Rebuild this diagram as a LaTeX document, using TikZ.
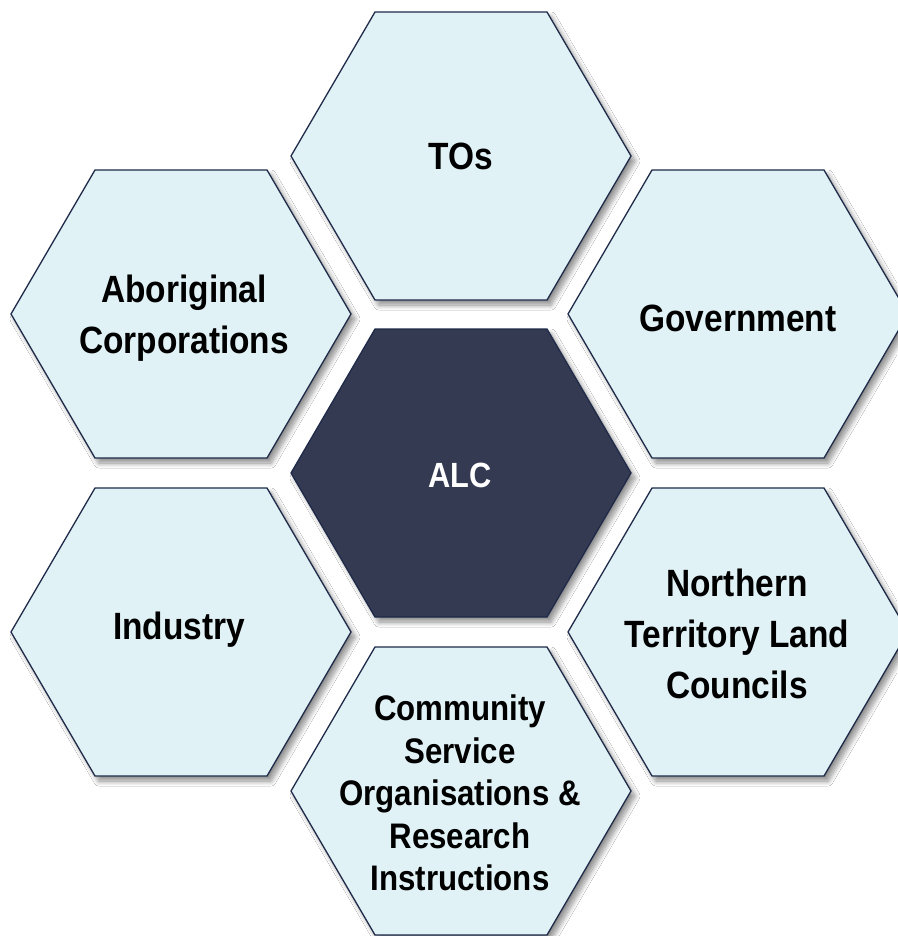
\documentclass[tikz,border=0pt]{standalone}
\usepackage{fontspec}
\newfontfamily\hexfont[FakeStretch=0.88]{Liberation Sans}
\usetikzlibrary{shadows.blur}
\definecolor{hexfill}{HTML}{E1F2F6}
\definecolor{hexdark}{HTML}{343A52}
\definecolor{hexline}{HTML}{1E2A48}
\tikzset{
  hexshape/.style={draw=hexline, line width=1.3pt, line join=miter,
    blur shadow={shadow xshift=4pt, shadow yshift=-5pt, shadow blur radius=5pt,
      shadow blur steps=10, shadow opacity=45}},
  hexlight/.style={hexshape, fill=hexfill},
  hexdarkfill/.style={hexshape, fill=hexdark},
  hexpath/.style={insert path={(-170,0) -- (-86,-144) -- (86,-144) -- (170,0) -- (86,144) -- (-86,144) -- cycle}},
  hexlabel/.style={align=center, inner sep=0pt, text=black,
    font=\hexfont\bfseries\fontsize{38}{51}\selectfont},
  hexlabelsmall/.style={hexlabel, font=\hexfont\bfseries\fontsize{35.5}{42.5}\selectfont},
  hexlabelwhite/.style={hexlabel, text=white, font=\hexfont\bfseries\fontsize{35}{42}\selectfont},
}
\begin{document}
\begin{tikzpicture}[x=1pt,y=-1pt]
\useasboundingbox (0,0) rectangle (897,936);
\fill[white] (0,0) rectangle (897,936);
% hexagons
\path[hexlight, shift={(461,156)}, hexpath];
\path[hexlight, shift={(181,314)}, hexpath];
\path[hexlight, shift={(738,314)}, hexpath];
\path[hexlight, shift={(181,632)}, hexpath];
\path[hexlight, shift={(738,632)}, hexpath];
\path[hexlight, shift={(461,791)}, hexpath];
\path[hexdarkfill, shift={(461,473)}, hexpath];
% labels
\node[hexlabel] (tos) at (461,156) {TOs};
\node[hexlabel] (abcorp) at (184,318) {Aboriginal\\Corporations};
\node[hexlabel] (gov) at (738,318) {Government};
\node[hexlabel] (ind) at (179,630) {Industry};
\node[hexlabel] (ntlc) at (737,634) {Northern\\Territory Land\\Councils};
\node[hexlabelsmall] (csorg) at (460,793) {Community\\Service\\Organisations \&\\Research\\Instructions};
\node[hexlabelwhite] (alc) at (460,475) {ALC};
\end{tikzpicture}
\end{document}
